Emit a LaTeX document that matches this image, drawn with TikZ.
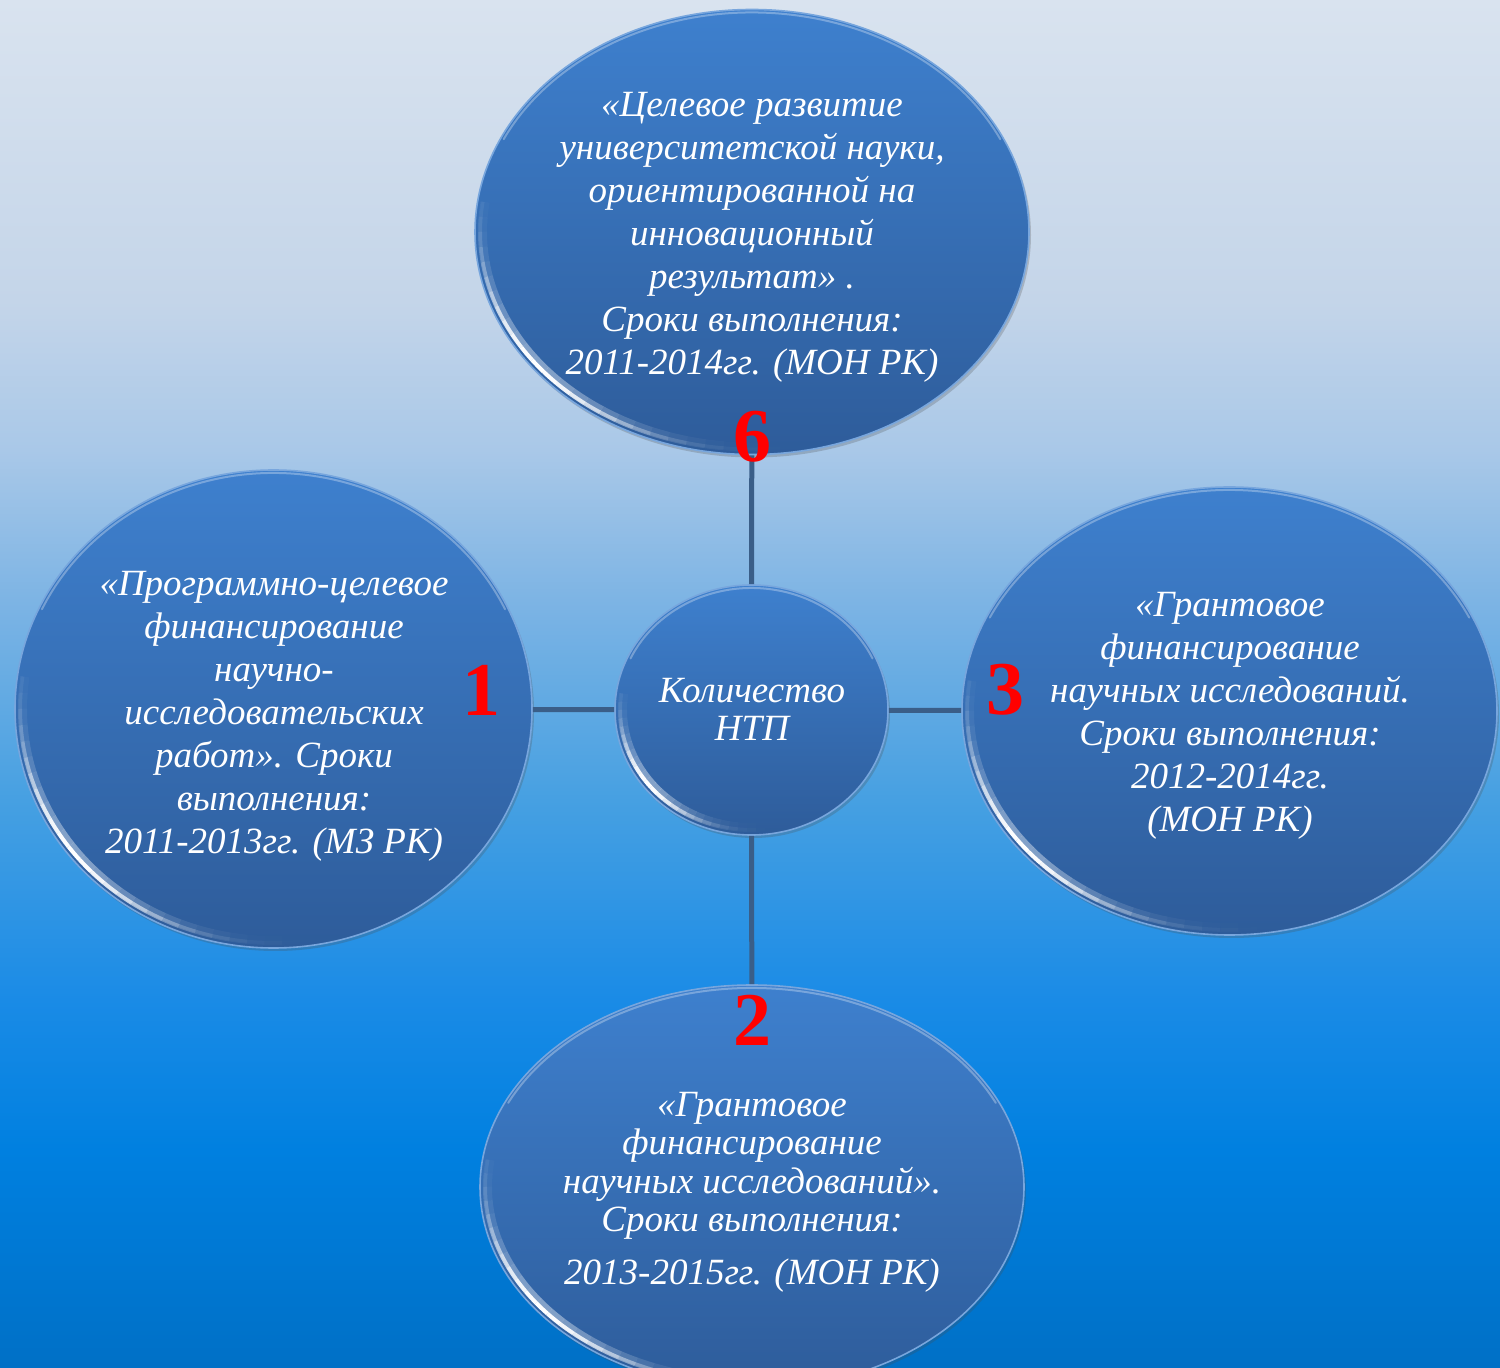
\documentclass[tikz,border=0pt]{standalone}
\usepackage{fontspec}
\setmainfont{Liberation Serif}
\usetikzlibrary{shapes.geometric,shadows,calc}
\definecolor{bubtop}{HTML}{3E80CE}
\definecolor{bubbot}{HTML}{2E5C9A}
\definecolor{connc}{HTML}{3A5E88}
\definecolor{numred}{HTML}{FF0000}
\definecolor{bgA}{HTML}{D9E3EF}
\definecolor{bgB}{HTML}{C4D5E9}
\definecolor{bgC}{HTML}{A9C8E8}
\definecolor{bgD}{HTML}{7DB4E4}
\definecolor{bgE}{HTML}{46A0E2}
\definecolor{bgF}{HTML}{1A8BE6}
\definecolor{bgG}{HTML}{0080E0}
\definecolor{bgH}{HTML}{0070C6}
\pgfdeclareverticalshading{bgshade}{100bp}{color(0bp)=(bgH); color(25bp)=(bgH); color(32.97bp)=(bgG); color(38.45bp)=(bgF); color(45.76bp)=(bgE); color(53.07bp)=(bgD); color(58.55bp)=(bgC); color(64bp)=(bgB); color(75bp)=(bgA); color(100bp)=(bgA)}
\tikzset{
  bubble/.style={ellipse, inner sep=0pt, top color=bubtop, bottom color=bubbot,
    draw=bubtop!70!white, line width=0.8pt,
    drop shadow={shadow xshift=1pt, shadow yshift=-1.5pt, opacity=0.25, fill=black!70}},
  btext/.style={text=white, align=center, font=\itshape\fontsize{18.5}{21.5}\selectfont, inner sep=0pt},
  numlbl/.style={text=numred, font=\bfseries\fontsize{38}{40}\selectfont, inner sep=0pt},
  conn/.style={draw=connc, line width=2.5pt},
  rimglow/.style={white, line width=4pt, line cap=butt},
  rimline/.style={white, line width=2pt, line cap=butt},
  rimtop/.style={white, line width=1pt, opacity=0.3, line cap=round}
}
\newcommand{\myrim}[4]{%
  \foreach \sa in {172,176,...,272}{%
    \pgfmathsetmacro{\ea}{\sa+4}%
    \pgfmathsetmacro{\op}{exp(-((\sa+2-218)/26)^2)}%
    \pgfmathsetmacro{\opg}{0.4*\op}%
    \draw[rimglow, opacity=\opg] ($(#1,#2)+(\sa:{#3-8} and {#4-8})$) arc[start angle=\sa, end angle=\ea, x radius={#3-8}, y radius={#4-8}];
    \draw[rimline, opacity=\op] ($(#1,#2)+(\sa:{#3-5} and {#4-5})$) arc[start angle=\sa, end angle=\ea, x radius={#3-5}, y radius={#4-5}];
  }
  \draw[rimtop] ($(#1,#2)+(25:{#3-3} and {#4-3})$) arc[start angle=25, end angle=155, x radius={#3-3}, y radius={#4-3}];
}
\begin{document}
\begin{tikzpicture}[x=0.5pt,y=0.5pt]
\useasboundingbox (0,0) rectangle (1500,-1368);
\shade[shading=bgshade] (0,0) rectangle (1500,-1368);

% bubbles
\node[bubble, minimum width=277pt, minimum height=222.5pt] (top) at (752,-232) {};
\node[bubble, minimum width=258.5pt, minimum height=239pt] (left) at (273.5,-709) {};
\node[bubble, minimum width=267.5pt, minimum height=224pt] (right) at (1229.5,-711) {};
\node[bubble, minimum width=272pt, minimum height=202pt] (bottom) at (752,-1187) {};
\node[bubble, minimum width=136.5pt, minimum height=125pt] (center) at (751.5,-710) {};

\myrim{752}{-232}{277}{222.5}
\myrim{273.5}{-709}{258.5}{239}
\myrim{1229.5}{-711}{267.5}{224}
\myrim{752}{-1187}{272}{202}
\myrim{751.5}{-710}{136.5}{125}

% connectors
\draw[conn] (top) -- (center);
\draw[conn] (left) -- (center);
\draw[conn] (right) -- (center);
\draw[conn] (bottom) -- (center);

% texts
\node[btext] (toptxt) at (752,-237) {«Целевое развитие\\университетской науки,\\ориентированной на\\инновационный\\результат» .\\Сроки выполнения:\\2011-2014гг. (МОН РК)};
\node[btext] (lefttxt) at (274,-716) {«Программно-целевое\\финансирование\\научно-\\исследовательских\\работ». Сроки\\выполнения:\\2011-2013гг. (МЗ РК)};
\node[btext] (righttxt) at (1230,-716) {«Грантовое\\финансирование\\научных исследований.\\Сроки выполнения:\\2012-2014гг.\\(МОН РК)};
\node[btext, font=\itshape\fontsize{18.5}{19.25}\selectfont] (bottxt) at (752,-1166) {«Грантовое\\финансирование\\научных исследований».\\Сроки выполнения:};
\node[btext] (bottxt2) at (752,-1276) {2013-2015гг. (МОН РК)};
\node[btext, font=\itshape\fontsize{18.5}{19}\selectfont] (centxt) at (752,-709) {Количество\\НТП};

% numbers
\node[numlbl] (n6) at (752,-437) {6};
\node[numlbl] (n1) at (481,-690) {1};
\node[numlbl] (n3) at (1005,-690) {3};
\node[numlbl] (n2) at (752,-1020) {2};
\end{tikzpicture}
\end{document}
